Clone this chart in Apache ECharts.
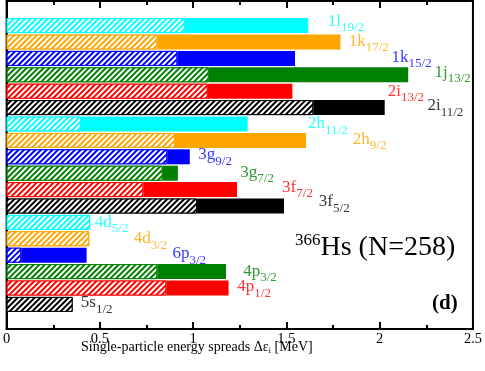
<!DOCTYPE html>
<html>
<head>
<meta charset="utf-8">
<script src="https://cdn.jsdelivr.net/npm/echarts@6/dist/echarts.min.js"></script>
<style>
  html, body { margin: 0; padding: 0; background: #fff; }
  #main { width: 485px; height: 371px; }
</style>
</head>
<body>
<div id="main"></div>
<script>
  // levels, top to bottom
  var orbit = ['1l', '1k', '1k', '1j', '2i', '2i', '2h', '2h', '3g', '3g', '3f', '3f', '4d', '4d', '6p', '4p', '4p', '5s'];
  var jsub = ['19/2', '17/2', '15/2', '13/2', '13/2', '11/2', '11/2', '9/2', '9/2', '7/2', '7/2', '5/2', '5/2', '3/2', '3/2', '3/2', '1/2', '1/2'];
  // end of hatched part and end of whole bar (MeV)
  var hatched = [0.955, 0.808, 0.915, 1.083, 1.078, 1.644, 0.398, 0.902, 0.861, 0.836, 0.733, 1.021, 0.448, 0.443, 0.078, 0.808, 0.856, 0.354];
  var total = [1.617, 1.790, 1.546, 2.153, 1.532, 2.027, 1.292, 1.605, 0.982, 0.918, 1.235, 1.487, 0.448, 0.443, 0.429, 1.176, 1.190, 0.354];
  // where the labels sit (MeV)
  var labelX = [1.722, 1.834, 2.064, 2.294, 2.043, 2.256, 1.616, 1.856, 1.028, 1.253, 1.477, 1.674, 0.473, 0.681, 0.889, 1.268, 1.237, 0.398];
  var labelDy = [-5.5, -1.5, -2, -3.5, -1, -3, -1, -2, -3, -2, -3.5, -5, -1, -1, -2.5, -1.5, -2, -2.5];
  var xTicks = [0, 0.5, 1, 1.5, 2, 2.5];

  var palette = ['#00ffff', '#ffa500', '#0000ff', '#008000', '#ff0000', '#000000'];
  var serif = 'Liberation Serif';

  var cats = ['pad0'].concat(orbit.map(function (o, i) { return o + jsub[i]; })).concat(['pad1']);

  var hatchData = ['-'], solidData = ['-'], labelData = [];
  orbit.forEach(function (o, i) {
    var c = palette[i % 6];
    hatchData.push({
      value: hatched[i],
      itemStyle: { color: c, borderColor: c, borderWidth: 1 }
    });
    solidData.push({
      value: +(total[i] - hatched[i]).toFixed(3),
      itemStyle: { color: c }
    });
    labelData.push({
      value: [labelX[i], i + 1],
      label: {
        offset: [0, labelDy[i] + 1],
        color: c,
        formatter: '{m|' + o + '}{s|' + jsub[i] + '}'
      }
    });
  });
  hatchData.push('-');
  solidData.push('-');

  var myChart = echarts.init(document.getElementById('main'));
  var option = {
    animation: false,
    grid: { left: 5, right: 11.5, top: 1, bottom: 42, show: true, borderColor: '#000', borderWidth: 2 },
    xAxis: [
      {
        type: 'value', min: 0, max: 2.5, interval: 0.5,
        axisLine: { show: true, lineStyle: { color: '#000', width: 2 } },
        axisTick: { show: true, inside: true, length: 7, lineStyle: { color: '#000', width: 2 } },
        minorTick: { show: true, splitNumber: 2, length: 4, lineStyle: { color: '#000', width: 2 } },
        splitLine: { show: false },
        axisLabel: {
          color: '#000', fontFamily: serif, fontSize: 14.5, margin: 3,
          formatter: function (v) { return xTicks.indexOf(v) >= 0 ? String(v) : ''; }
        }
      },
      {
        type: 'value', position: 'top', min: 0, max: 2.5, interval: 0.5,
        axisLine: { show: true, lineStyle: { color: '#000', width: 2 } },
        axisTick: { show: true, inside: true, length: 7, lineStyle: { color: '#000', width: 2 } },
        minorTick: { show: true, splitNumber: 2, length: 4, lineStyle: { color: '#000', width: 2 } },
        splitLine: { show: false },
        axisLabel: { show: false }
      }
    ],
    yAxis: {
      type: 'category', data: cats, inverse: true,
      axisLine: { show: true, lineStyle: { color: '#000', width: 2 } },
      axisTick: { show: false },
      axisLabel: { show: false },
      splitLine: { show: false }
    },
    series: [
      {
        type: 'bar', stack: 'a', barWidth: 15, data: hatchData,
        itemStyle: {
          decal: {
            symbol: 'rect', symbolSize: 1,
            dashArrayX: [1, 0], dashArrayY: [1.5, 1.5],
            rotation: -Math.PI / 4, color: '#ffffff'
          }
        }
      },
      { type: 'bar', stack: 'a', barWidth: 15, data: solidData },
      {
        type: 'scatter', symbolSize: 0, data: labelData, z: 5,
        label: {
          show: true, position: 'right', distance: 0,
          fontFamily: serif,
          rich: {
            m: { fontFamily: serif, fontSize: 17, lineHeight: 17 },
            s: { fontFamily: serif, fontSize: 13, lineHeight: 13, padding: [13, 0, 0, 0] }
          }
        }
      }
    ],
    graphic: [
      {
        type: 'text', left: 81, top: 340,
        style: {
          text: 'Single-particle energy spreads Δε{s|i} [MeV]',
          font: '14px "Liberation Serif"', fill: '#000',
          rich: { s: { fontFamily: serif, fontSize: 9, padding: [8, 0, 0, 0] } }
        }
      },
      {
        type: 'text', left: 295, top: 232,
        style: {
          text: '{a|366}{b|Hs (N=258)}',
          fill: '#000',
          rich: {
            a: { fontFamily: serif, fontSize: 17, padding: [0, 0, 14, 0] },
            b: { fontFamily: serif, fontSize: 28 }
          }
        }
      },
      {
        type: 'text', left: 432, top: 293,
        style: { text: '(d)', font: 'bold 21px "Liberation Serif"', fill: '#000' }
      }
    ]
  };
  myChart.setOption(option);
</script>
</body>
</html>
